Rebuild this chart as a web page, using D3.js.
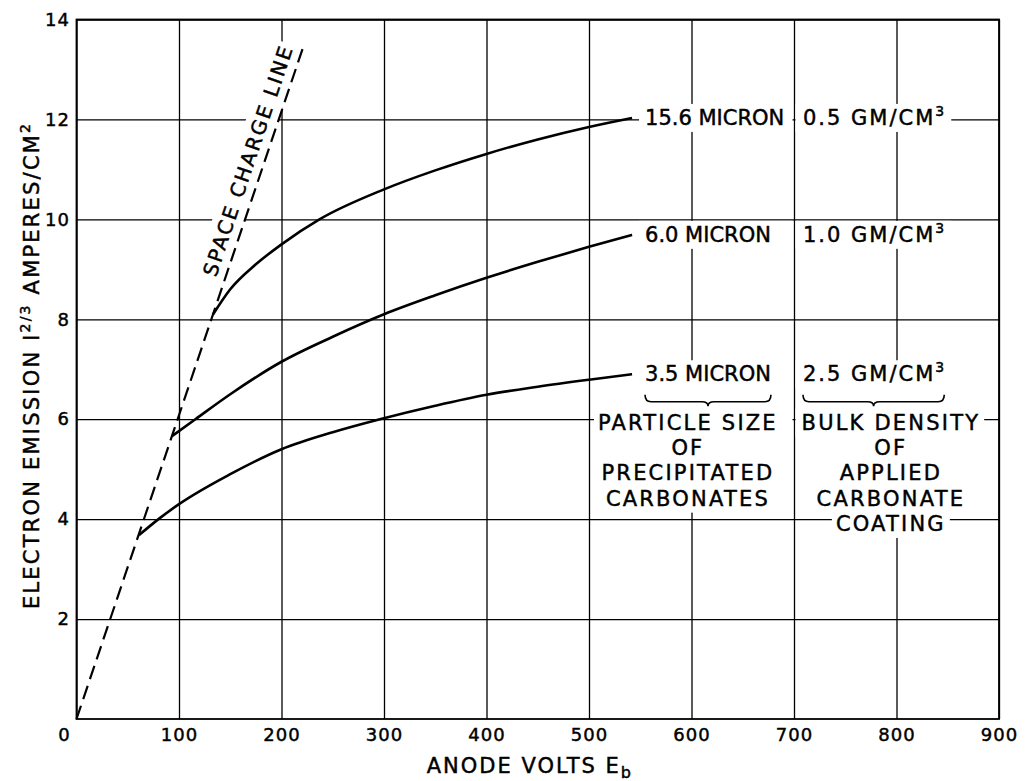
<!DOCTYPE html>
<html><head><meta charset="utf-8">
<script src="https://cdn.jsdelivr.net/npm/d3@7"></script>
<style>
body{margin:0;background:#fff}
svg{display:block}
text{font-family:"DejaVu Sans",sans-serif;fill:#000}
</style>
</head><body>
<svg id="c" width="1025" height="781"></svg>
<script>
// ---------- data ----------
const xTicks = [0,100,200,300,400,500,600,700,800,900];
const yTicks = [2,4,6,8,10,12,14];
const spaceChargeV = [0,222];
const spaceChargeE = [0,13.5];
const volts156 = [133,150,175,200,237,300,350,400,450,500,542];
const emis156  = [8.09,8.6,9.1,9.5,10.0,10.6,10.98,11.31,11.6,11.85,12.03];
const volts60  = [93,116,150,200,250,300,350,400,450,500,542];
const emis60   = [5.66,6.0,6.5,7.15,7.65,8.1,8.48,8.83,9.15,9.45,9.69];
const volts35  = [61,80,100,150,200,250,296,350,400,450,500,542];
const emis35   = [3.68,4.0,4.3,4.9,5.4,5.74,6.0,6.27,6.49,6.65,6.79,6.9];
const particleSizes = ["15.6 MICRON","6.0 MICRON","3.5 MICRON"];
const bulkDensities = ["0.5","1.0","2.5"];
const densityUnit = "GM/CM";
const particleNote = ["PARTICLE SIZE","OF","PRECIPITATED","CARBONATES"];
const densityNote = ["BULK DENSITY","OF","APPLIED","CARBONATE","COATING"];
const spaceChargeLabel = "SPACE CHARGE LINE";
const xTitle = "ANODE VOLTS E", xTitleSub = "b";
const yTitleParts = ["ELECTRON EMISSION I","2/3"," AMPERES/CM","2"];

// ---------- setup ----------
const svg = d3.select("#c");
const x = d3.scaleLinear().domain([0,900]).range([76.5,999]);
const y = d3.scaleLinear().domain([0,14]).range([719,19.5]);
const [L,R] = x.range(), [B,T] = y.range();
const INK = 0.45; // extra stroke to mimic lettering-pen weight

// grid via axes
const gx = svg.append("g").attr("transform",`translate(0,${B})`)
  .call(d3.axisBottom(x).tickValues(xTicks).tickSize(-(B-T)).tickPadding(9.5).tickFormat(d3.format("d")));
const gy = svg.append("g").attr("transform",`translate(${L},0)`)
  .call(d3.axisLeft(y).tickValues(yTicks).tickSize(-(R-L)).tickPadding(6.5).tickFormat(d3.format("d")));
[gx,gy].forEach(g=>{
  g.select(".domain").remove();
  g.selectAll(".tick line").attr("stroke","#000").attr("stroke-width",1.3);
  g.selectAll(".tick text").attr("font-size",18).attr("letter-spacing",1)
    .attr("font-family","DejaVu Sans").attr("fill","#000")
    .attr("stroke","#000").attr("stroke-width",INK);
});
gx.selectAll(".tick").filter(d=>d===0).select("text").attr("dx",-12.5);
svg.append("rect").attr("x",L).attr("y",T).attr("width",R-L).attr("height",B-T)
  .attr("fill","none").attr("stroke","#000").attr("stroke-width",1.8);

// ---------- labels with white backgrounds ----------
const labG = svg.append("g");
const boxG = labG.append("g");
const txtG = labG.append("g").attr("stroke","#000").attr("stroke-width",INK);
function box(x0, y0, x1, y1, transform){
  const r = boxG.append("rect").attr("x",x0).attr("y",y0)
    .attr("width",x1-x0).attr("height",y1-y0).attr("fill","#fff");
  if(transform) r.attr("transform",transform);
}
const AF = 21;
const x700 = x(700);

const ends = [[volts156,emis156],[volts60,emis60],[volts35,emis35]].map(([v,e])=>[v[v.length-1],e[e.length-1]]);
let lastPBox=null, lastDBox=null, base35=0;
ends.forEach(([v,e],i)=>{
  const by = y(e)+7;
  const t1 = txtG.append("text").attr("x",x(v)+13).attr("y",by)
    .attr("font-size",AF).attr("letter-spacing",0).text(particleSizes[i]);
  const b1 = t1.node().getBBox();
  box(b1.x-6, b1.y-2, x700-1.5, b1.y+b1.height+2);
  const t2 = txtG.append("text").attr("x",x700+9).attr("y",by)
    .attr("font-size",AF).attr("letter-spacing",2);
  t2.append("tspan").text(bulkDensities[i]+" "+densityUnit);
  t2.append("tspan").attr("font-size",14).attr("dy",-9).text("3");
  const b2 = t2.node().getBBox();
  box(x700+1.5, b1.y-2, b2.x+b2.width+5, b1.y+b1.height+2);
  if(i===2){ lastPBox=b1; lastDBox={x:b2.x,width:b2.width-2}; base35=by; }
});

// braces
function brace(x0,x1,y0){
  const ym=y0+7, y1=y0+11.5, mid=(x0+x1)/2, r=6;
  return `M${x0},${y0} Q${x0},${ym} ${x0+r},${ym} L${mid-r},${ym} Q${mid},${ym} ${mid},${y1} `+
         `Q${mid},${ym} ${mid+r},${ym} L${x1-r},${ym} Q${x1},${ym} ${x1},${y0}`;
}
const braceY = base35+13.5;
const rowY0 = base35+48.5, rowStep = 25.3;
box(lastPBox.x-2, base35, lastPBox.x+lastPBox.width+2, rowY0-15);
box(lastDBox.x-2, base35, lastDBox.x+lastDBox.width+2, rowY0-15);
const braces = svg.append("g");
[[lastPBox.x, lastPBox.x+lastPBox.width],[lastDBox.x, lastDBox.x+lastDBox.width]].forEach(([a,b])=>{
  braces.append("path").attr("d",brace(a,b,braceY)).attr("fill","none")
    .attr("stroke","#000").attr("stroke-width",1.6);
});

// note rows
const cxL = x(596.5), cxR = x(794.5);
[[particleNote,cxL,-1],[densityNote,cxR,1]].forEach(([rows,cx,side])=>{
  rows.forEach((s,i)=>{
    const t = txtG.append("text").attr("x",cx).attr("y",rowY0+i*rowStep)
      .attr("text-anchor","middle").attr("font-size",AF).attr("letter-spacing",2.2).text(s);
    const b = t.node().getBBox();
    let x0=b.x-4, x1=b.x+b.width+4;
    if(i===0){ if(side<0) x1=x700-1.5; else x0=x700+1.5; }
    box(x0, b.y-2, x1, b.y+b.height+2);
  });
});

// space charge label
const p0=[x(spaceChargeV[0]),y(spaceChargeE[0])], p1=[x(spaceChargeV[1]),y(spaceChargeE[1])];
const ang = Math.atan2(p1[1]-p0[1], p1[0]-p0[0]);
const angDeg = ang*180/Math.PI;
const tAlong = 0.65;
const sp = [p0[0]+(p1[0]-p0[0])*tAlong, p0[1]+(p1[1]-p0[1])*tAlong];
const off = 9;
const lp = [sp[0]+off*Math.sin(ang), sp[1]-off*Math.cos(ang)];
const tr = `translate(${lp[0]},${lp[1]}) rotate(${angDeg})`;
const sct = txtG.append("text").attr("transform",tr).attr("font-size",20)
  .attr("letter-spacing",2.2).text(spaceChargeLabel);
const sb = sct.node().getBBox();
box(sb.x-4, sb.y-3, sb.x+sb.width+2, off, tr);

// axis titles
const tG = svg.append("g").attr("stroke","#000").attr("stroke-width",INK);
const xt = tG.append("text").attr("x",426.7).attr("y",773).attr("font-size",21).attr("letter-spacing",2);
xt.append("tspan").text(xTitle);
xt.append("tspan").attr("font-size",16).attr("dy",5).text(xTitleSub);
const yt = tG.append("text").attr("transform","translate(39,609) rotate(-90)").attr("font-size",21).attr("letter-spacing",2.2);
yt.append("tspan").text(yTitleParts[0]);
yt.append("tspan").attr("font-size",14).attr("dy",-9).text(yTitleParts[1]);
yt.append("tspan").attr("dy",9).text(yTitleParts[2]);
yt.append("tspan").attr("font-size",14).attr("dy",-9).text(yTitleParts[3]);

// ---------- curves ----------
const line = d3.line().x(d=>x(d[0])).y(d=>y(d[1])).curve(d3.curveMonotoneX);
const curves = svg.append("g");
curves.append("path").datum(d3.zip(spaceChargeV,spaceChargeE)).attr("d",d3.line().x(d=>x(d[0])).y(d=>y(d[1])))
  .attr("fill","none").attr("stroke","#000").attr("stroke-width",2.2).attr("stroke-dasharray","14,7");
[[volts156,emis156],[volts60,emis60],[volts35,emis35]].forEach(([v,e])=>{
  curves.append("path").datum(d3.zip(v,e)).attr("d",line)
    .attr("fill","none").attr("stroke","#000").attr("stroke-width",2.6);
});
</script>
</body></html>
